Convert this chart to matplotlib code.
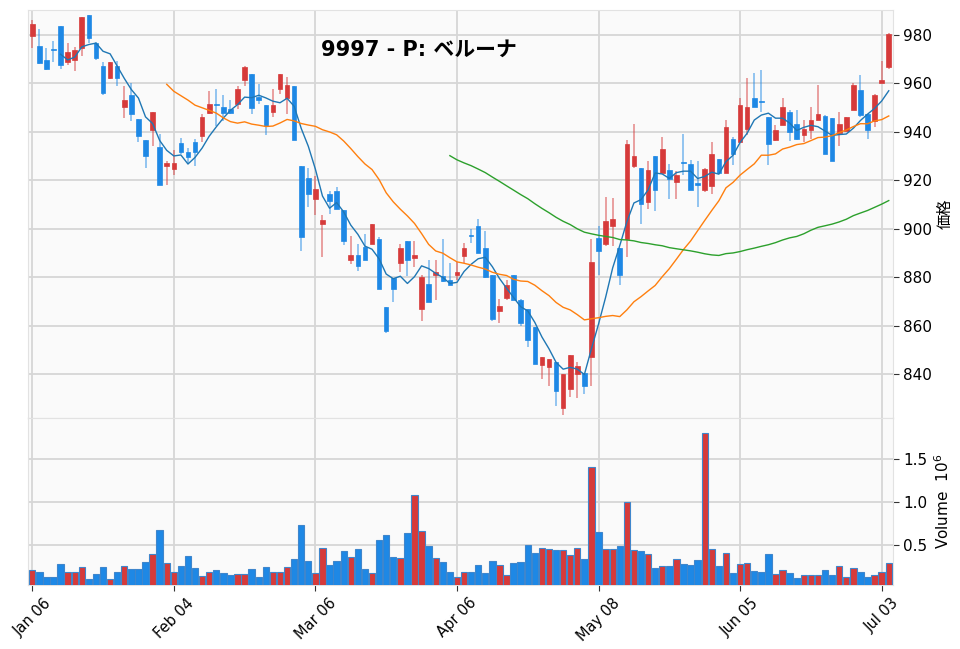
import numpy as np
import pandas as pd
import matplotlib
matplotlib.use("Agg")
import matplotlib.pyplot as plt

plt.rcParams['font.family'] = ['DejaVu Sans', 'Noto Sans CJK JP']

title = "9997 - P: ベルーナ"
tick_pos = [0, 20, 40, 60, 80, 100, 120]
tick_labels = ["Jan 06", "Feb 04", "Mar 06", "Apr 06", "May 08", "Jun 05", "Jul 03"]
mav = [5, 20, 60]

# 日足データ (読み取り値)
opens = [979.5, 975.6, 969.8, 974.0, 983.6, 968.7, 969.8, 974.5, 988.3, 976.6,
         967.0, 962.1, 967.3, 950.2, 955.2, 945.3, 936.8, 941.0, 933.6, 925.8,
         924.8, 935.6, 931.9, 936.0, 938.3, 947.9, 951.5, 950.3, 949.6, 951.4,
         961.6, 963.7, 954.4, 951.1, 948.2, 957.9, 954.1, 958.9, 926.0, 921.0,
         912.3, 901.9, 914.3, 915.5, 907.7, 887.0, 889.3, 892.5, 893.9, 896.0,
         867.7, 879.8, 886.1, 895.0, 888.1, 867.1, 877.1, 880.8, 880.4, 879.0,
         880.8, 889.0, 897.4, 901.0, 892.2, 881.1, 866.0, 871.5, 881.1, 870.7,
         867.0, 859.4, 844.0, 842.9, 845.2, 826.1, 833.9, 840.1, 840.4, 847.0,
         896.3, 893.8, 901.0, 892.1, 895.9, 925.8, 925.2, 911.0, 929.9, 923.0,
         924.1, 919.3, 927.3, 926.9, 918.9, 915.9, 917.9, 929.0, 923.0, 937.2,
         935.9, 941.4, 954.2, 952.5, 946.2, 936.8, 942.8, 948.3, 943.2, 938.9,
         941.0, 944.8, 946.5, 945.9, 939.6, 940.3, 949.0, 957.2, 947.3, 944.6,
         960.0, 966.9]
highs = [986.3, 982.5, 974.5, 977.7, 983.6, 976.6, 975.0, 987.3, 988.3, 977.2,
         968.7, 968.7, 969.4, 959.1, 960.0, 945.3, 936.8, 948.4, 939.1, 928.1,
         932.4, 937.6, 933.5, 937.0, 947.2, 956.8, 957.8, 955.2, 953.0, 958.9,
         967.1, 963.7, 959.9, 951.1, 957.8, 964.0, 962.6, 958.9, 926.0, 925.0,
         922.0, 905.6, 915.5, 917.3, 907.7, 896.9, 893.9, 897.7, 901.9, 896.6,
         867.7, 879.8, 893.9, 895.0, 895.0, 880.8, 887.0, 887.0, 896.0, 886.0,
         886.5, 894.2, 900.0, 904.1, 899.0, 881.1, 871.1, 879.0, 881.1, 871.1,
         867.0, 859.4, 847.0, 846.3, 845.2, 840.1, 848.1, 844.9, 840.4, 895.9,
         901.2, 913.0, 912.8, 892.1, 936.8, 943.2, 925.2, 928.0, 929.9, 937.9,
         926.9, 923.9, 939.0, 928.3, 928.0, 925.2, 935.9, 929.0, 944.8, 938.1,
         954.2, 962.1, 964.4, 965.5, 946.2, 942.8, 954.2, 949.2, 949.2, 945.1,
         950.1, 959.3, 946.9, 945.9, 948.3, 946.2, 960.3, 963.4, 947.3, 955.6,
         969.2, 981.0]
lows = [974.5, 968.0, 965.7, 969.0, 966.0, 967.8, 965.0, 971.5, 976.7, 969.8,
        955.3, 962.0, 959.1, 945.6, 944.6, 935.7, 925.0, 934.0, 918.2, 918.2,
        922.2, 930.8, 927.3, 926.0, 936.0, 947.2, 942.4, 944.5, 947.2, 949.3,
        958.9, 947.2, 951.4, 938.7, 946.3, 955.5, 947.2, 936.5, 891.0, 909.0,
        905.7, 888.4, 906.0, 908.3, 893.2, 885.4, 882.6, 887.0, 893.9, 875.3,
        857.0, 869.8, 882.2, 880.4, 884.3, 862.2, 869.8, 870.5, 878.1, 876.8,
        879.0, 886.0, 894.1, 890.0, 879.8, 861.9, 861.0, 870.7, 870.7, 860.1,
        851.1, 844.3, 838.1, 835.3, 827.1, 823.3, 830.5, 830.2, 832.1, 835.3,
        881.1, 893.1, 893.1, 877.0, 888.3, 925.2, 902.1, 908.3, 907.3, 923.0,
        912.4, 912.4, 922.1, 915.9, 909.2, 915.2, 914.2, 922.5, 923.0, 926.2,
        935.9, 938.6, 950.1, 948.3, 926.2, 936.3, 942.8, 936.3, 936.6, 935.9,
        937.2, 944.8, 931.0, 928.0, 934.1, 940.3, 949.0, 946.2, 937.2, 942.1,
        960.0, 965.8]
closes = [984.5, 968.4, 966.0, 973.8, 967.6, 972.8, 974.0, 987.3, 978.6, 970.5,
          956.0, 968.7, 962.1, 953.2, 947.4, 938.5, 929.9, 948.4, 918.2, 927.0,
          927.0, 931.9, 929.7, 931.9, 946.3, 951.4, 951.2, 947.9, 947.9, 957.9,
          966.9, 950.0, 953.0, 942.4, 951.1, 963.7, 959.2, 936.5, 896.7, 914.3,
          916.5, 903.8, 911.4, 908.3, 895.0, 889.3, 884.9, 887.0, 901.9, 875.3,
          857.8, 875.3, 892.1, 887.0, 889.3, 880.1, 869.8, 882.2, 878.5, 877.0,
          882.2, 892.2, 897.1, 890.0, 880.0, 862.8, 868.0, 877.0, 870.7, 861.0,
          854.2, 844.3, 847.0, 846.3, 833.0, 840.1, 848.1, 843.3, 835.2, 886.2,
          891.0, 903.2, 904.1, 881.1, 935.2, 929.9, 910.1, 924.1, 916.1, 933.1,
          920.7, 922.1, 927.1, 916.1, 918.0, 924.8, 931.0, 923.0, 942.0, 931.0,
          951.3, 950.1, 950.1, 952.3, 934.9, 941.0, 950.1, 940.0, 937.0, 941.4,
          945.1, 947.3, 931.0, 928.0, 943.2, 946.2, 959.3, 946.9, 941.0, 955.2,
          961.4, 980.4]
# 出来高 (10^6株)
volume = [0.204, 0.188, 0.128, 0.124, 0.272, 0.184, 0.184, 0.240, 0.104, 0.160,
          0.244, 0.104, 0.184, 0.256, 0.216, 0.220, 0.296, 0.392, 0.672, 0.284,
          0.188, 0.256, 0.368, 0.228, 0.140, 0.180, 0.208, 0.172, 0.152, 0.164,
          0.164, 0.220, 0.128, 0.240, 0.180, 0.184, 0.240, 0.332, 0.728, 0.312,
          0.168, 0.468, 0.260, 0.316, 0.432, 0.360, 0.448, 0.224, 0.168, 0.556,
          0.620, 0.356, 0.344, 0.644, 1.084, 0.668, 0.488, 0.352, 0.304, 0.184,
          0.124, 0.184, 0.184, 0.268, 0.176, 0.316, 0.260, 0.144, 0.292, 0.296,
          0.496, 0.408, 0.464, 0.456, 0.444, 0.444, 0.384, 0.468, 0.340, 1.412,
          0.652, 0.448, 0.448, 0.488, 1.000, 0.440, 0.432, 0.392, 0.232, 0.256,
          0.252, 0.332, 0.280, 0.268, 0.328, 1.804, 0.456, 0.252, 0.400, 0.168,
          0.272, 0.284, 0.200, 0.188, 0.388, 0.164, 0.208, 0.176, 0.116, 0.152,
          0.152, 0.152, 0.204, 0.144, 0.248, 0.124, 0.232, 0.188, 0.120, 0.152,
          0.180, 0.292]

up_color = '#d63a3a'
down_color = '#1e88e5'
ma_colors = ['#1f77b4', '#ff7f0e', '#2ca02c']

df = pd.DataFrame({'open': opens, 'high': highs, 'low': lows,
                   'close': closes, 'volume': volume})
x = np.arange(len(df))
up = df['close'] >= df['open']
colors = np.where(up, up_color, down_color)

fig = plt.figure(figsize=(9.6, 6.49), dpi=100)
ax = fig.add_axes([28/960, 231/649, 865/960, 408/649])
axv = fig.add_axes([28/960, 64/649, 865/960, 167/649], sharex=ax)

for a in (ax, axv):
    a.set_facecolor('#fafafa')
    a.grid(True, color='#d6d6d6', linewidth=1.3)
    a.set_axisbelow(True)
    for s in a.spines.values():
        s.set_color('#e2e2e2')
    a.yaxis.tick_right()
    a.yaxis.set_label_position('right')
    a.tick_params(axis='y', labelsize=11, length=4, color='#333333')

# ローソク足
ax.vlines(x, df['low'], df['high'], colors=colors, linewidth=1.1, alpha=0.6, zorder=2)
body_low = np.minimum(df['open'], df['close'])
body_h = np.maximum((df['close'] - df['open']).abs(), 0.4)
ax.bar(x, body_h, bottom=body_low, width=0.65, color=colors,
       edgecolor=colors, linewidth=0.5, zorder=3)

# 移動平均
for n, c in zip(mav, ma_colors):
    ax.plot(x, df['close'].rolling(n).mean(), color=c, linewidth=1.0, zorder=4)

ax.set_ylim(822, 990.3)
ax.set_yticks(np.arange(840, 981, 20))
ax.set_ylabel('価格', fontsize=11, labelpad=4)
ax.tick_params(axis='x', length=0, labelbottom=False)

# 出来高
axv.bar(x, df['volume'], width=0.9, color=colors, edgecolor='#3f86cc',
        linewidth=0.8, zorder=3)
axv.set_ylim(0.3 * df['volume'].min(), 1.1 * df['volume'].max())
axv.set_yticks([0.5, 1.0, 1.5])
axv.set_ylabel('Volume  $10^{6}$', fontsize=11, labelpad=4)

axv.set_xlim(-0.6, len(df) - 0.4)
axv.set_xticks(tick_pos)
axv.set_xticklabels(tick_labels, rotation=45, fontsize=10.5)
axv.tick_params(axis='x', length=4, color='#333333')

fig.text(419/960, 1 - 50/649, title, ha='center', va='center',
         fontsize=15, fontweight='bold')

fig.savefig('out.png', dpi=100)
